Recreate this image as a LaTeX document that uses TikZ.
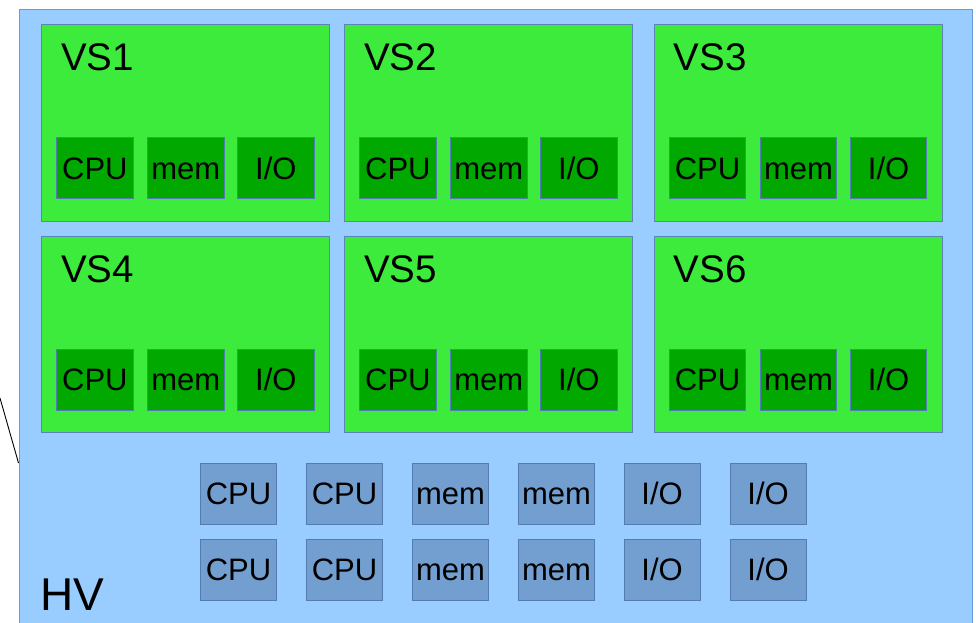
\documentclass[tikz,border=0pt]{standalone}
\usepackage{fontspec}
\setmainfont{Liberation Sans}
\definecolor{hvfill}{HTML}{99CCFF}
\definecolor{hvline}{HTML}{6A9BD6}
\definecolor{vsfill}{HTML}{3DEB3D}
\definecolor{unitgreen}{HTML}{00A800}
\definecolor{unitblue}{HTML}{729FCF}
\definecolor{edgeblue}{HTML}{3465A4}
\newcommand\iolbl{I/O}
\begin{document}
\begin{tikzpicture}[x=1pt,y=-1pt,
  hvbox/.style={rectangle, draw=hvline, fill=hvfill, line width=1pt, anchor=north west,
    inner sep=0pt, minimum width=953.5pt, minimum height=640pt},
  vsbox/.style={rectangle, draw=edgeblue!80, fill=vsfill, line width=0.7pt, anchor=north west,
    inner sep=0pt, minimum width=287.5pt, minimum height=196.4pt},
  unit/.style={rectangle, draw=edgeblue!85, line width=0.7pt, anchor=north west,
    inner sep=0pt, minimum width=76.4pt, minimum height=61pt,
    font=\fontsize{31}{37}\selectfont, text height=22.2pt, text depth=0pt},
  vsunit/.style={unit, fill=unitgreen},
  hvunit/.style={unit, fill=unitblue},
  vslabel/.style={anchor=base west, inner sep=0pt, font=\fontsize{38.5}{46}\selectfont},
  hvlabel/.style={anchor=base west, inner sep=0pt, font=\fontsize{46}{55}\selectfont},
  tether/.style={draw=black, line width=0.9pt}]
\useasboundingbox (0,0) rectangle (976,622);
\clip (0,0) rectangle (976,622);

% hypervisor frame
\node[hvbox] (hv) at (18.5,9) {};
\node[hvlabel] (hvname) at (40,610) {HV};

% tether line on the left side of the frame
\coordinate (tail) at (0,398);
\draw[tether] (tail) -- ([yshift=-454pt]hv.north west);

% virtual servers with their resources
\foreach \i/\x/\y in {1/41.3/24.3, 2/344.3/24.3, 3/654/24.3,
                      4/41.3/236, 5/344.3/236, 6/654/236} {
  \node[vsbox] (vs\i) at (\x,\y) {};
  \node[vslabel] (vs\i-name) at (\x+19.7,\y+46.2) {VS\i};
  \node[vsunit] (vs\i-cpu) at (\x+15,\y+113) {CPU};
  \node[vsunit] (vs\i-mem) at (\x+106,\y+113) {mem};
  \node[vsunit] (vs\i-io)  at (\x+196,\y+113) {\iolbl};
}

% pool of hypervisor resources
\foreach \r/\y in {1/462.7, 2/538.5} {
  \node[hvunit] (pool\r-cpua) at (200,\y) {CPU};
  \node[hvunit] (pool\r-cpub) at (306,\y) {CPU};
  \node[hvunit] (pool\r-mema) at (412,\y) {mem};
  \node[hvunit] (pool\r-memb) at (518,\y) {mem};
  \node[hvunit] (pool\r-ioa)  at (623.5,\y) {\iolbl};
  \node[hvunit] (pool\r-iob)  at (729.5,\y) {\iolbl};
}
\end{tikzpicture}
\end{document}
